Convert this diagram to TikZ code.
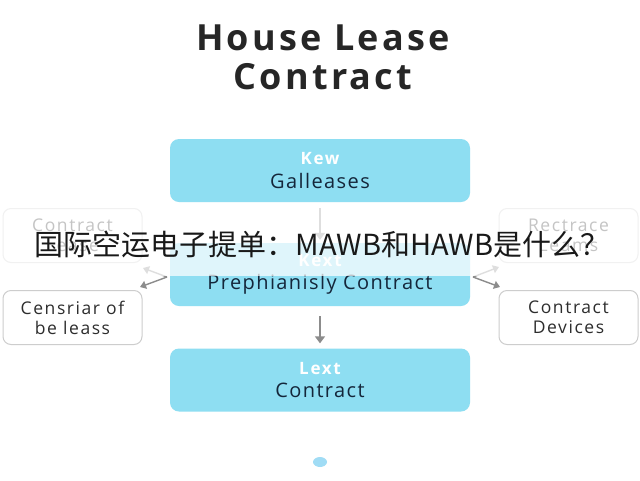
\documentclass[tikz,border=0pt]{standalone}
\usepackage{fontspec}
\setmainfont{Open Sans}[LetterSpace=7]
\newfontfamily\titlefont{Open Sans}[LetterSpace=9]
\newfontfamily\sidefont{Open Sans}[LetterSpace=9]
\newfontfamily\hdfont{Open Sans}[LetterSpace=10]
\newfontfamily\cjk{Noto Sans CJK SC}
\usetikzlibrary{arrows.meta,calc}
\definecolor{boxcyan}{RGB}{142,222,242}
\definecolor{navy}{RGB}{20,38,58}
\definecolor{sidegray}{RGB}{205,205,205}
\definecolor{sidetext}{RGB}{45,45,45}
\definecolor{arrowgray}{RGB}{140,140,140}
\definecolor{dotblue}{RGB}{160,220,245}
\begin{document}
\begin{tikzpicture}[x=1pt,y=-1pt,
  mainbox/.style={minimum width=300pt,minimum height=63pt,rounded corners=9pt,fill=boxcyan,draw=none,align=center,inner sep=0pt},
  sidebox/.style={minimum width=139pt,minimum height=54pt,rounded corners=8pt,fill=white,draw=sidegray,line width=1pt,align=center,text=sidetext,font=\sidefont\fontsize{17.5}{20}\selectfont,inner sep=0pt},
  flow/.style={draw=arrowgray,line width=1.6pt,-{Triangle[length=7pt,width=10pt]}},
  side/.style={draw=arrowgray,line width=1.4pt,-{Triangle[length=6pt,width=8pt]}}
]
\useasboundingbox (0,0) rectangle (640,480);
\fill[white] (0,0) rectangle (640,480);
\newcommand{\hd}[1]{{\hdfont\bfseries\color{white}\fontsize{17}{18}\selectfont #1}}
\newcommand{\bd}[1]{{\color{navy}\fontsize{20}{22}\selectfont #1}}

\node[font=\titlefont\bfseries\fontsize{36}{39.5}\selectfont,text=black!85,align=center] (title) at (323,57.5) {House Lease\\Contract};

\node[mainbox] (b1) at (320,170.5) {\hd{Kew}\\[7pt]\bd{Galleases}};
\node[mainbox] (b2) at (320,274.5) {\hd{Kext}\\[7pt]\bd{Prephianisly Contract}};
\node[mainbox] (b3) at (320,380) {\hd{Lext}\\[7pt]\bd{Contract}};

\node[sidebox] (l1) at (72.5,235.5) {Contract\\Lease};
\node[sidebox] (l2) at (72.5,317.5) {Censriar of\\be leass};
\node[sidebox] (r1) at (568.5,235.5) {Rectrace\\Leams};
\node[sidebox] (r2) at (568.5,317.5) {Contract\\Devices};

\fill[dotblue] (320,462) ellipse (7pt and 5pt);
\node[inner sep=0pt,minimum size=0pt] (dot) at (320,462) {};

\draw[flow] ($(b1.south)+(0,6)$) -- ($(b2.north)+(0,-3)$);
\draw[flow] ($(b2.south)+(0,10)$) -- ($(b3.north)+(0,-5)$);

\coordinate (lv) at (167,277);
\coordinate (lu) at (143,268);
\coordinate (ld) at (140,287);
\coordinate (rv) at (473,277);
\coordinate (ru) at (499,267);
\coordinate (rd) at (500,287);
\draw[side] (lv) -- (lu);
\draw[side] (lv) -- (ld);
\draw[side] (rv) -- (ru);
\draw[side] (rv) -- (rd);

\fill[white,opacity=0.72] (0,205) rectangle (640,276);
\node[font=\cjk\fontsize{29}{34}\selectfont,text=black!90,inner sep=0pt] (banner) at (322,244) {国际空运电子提单：MAWB和HAWB是什么？};
\end{tikzpicture}
\end{document}
